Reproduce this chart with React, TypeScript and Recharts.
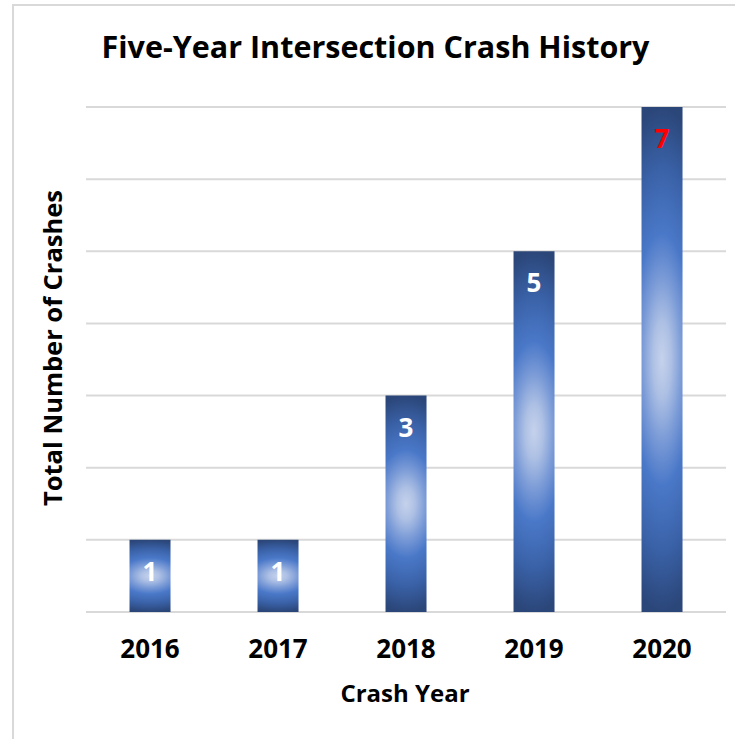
import { BarChart, Bar, XAxis, YAxis, CartesianGrid, LabelList } from 'recharts';

const years = ['2016', '2017', '2018', '2019', '2020'];
const crashes = [1, 1, 3, 5, 7];
const yTicks = [0, 1, 2, 3, 4, 5, 6, 7];

const data = years.map((year, i) => ({ year, crashes: crashes[i] }));

const FONT = "'Open Sans', 'Noto Sans', sans-serif";

const BarValue = (props: any) => {
  const { x, y, width, value } = props;
  return (
    <text
      x={x + width / 2}
      y={y + 41}
      textAnchor="middle"
      fill={value === 7 ? '#ff0000' : '#ffffff'}
      fontSize={26}
      fontWeight={700}
      fontFamily={FONT}
    >
      {value}
    </text>
  );
};

// y ticks are only needed for the gridlines, so draw nothing for them
const NoTick = () => <g />;

export default function App() {
  return (
    <div
      style={{
        position: 'absolute',
        left: 0,
        top: 0,
        width: 735,
        height: 739,
        overflow: 'hidden',
        background: '#fff',
        fontFamily: FONT,
      }}
    >
      <div
        style={{
          position: 'absolute',
          left: 12,
          top: 4,
          width: 800,
          height: 800,
          border: '2px solid #d9d9d9',
        }}
      />
      <div
        style={{
          position: 'absolute',
          left: 0,
          top: 25,
          width: 751,
          textAlign: 'center',
          fontSize: 30.5,
          fontWeight: 700,
          color: '#000',
          lineHeight: '42px',
        }}
      >
        Five-Year Intersection Crash History
      </div>
      <div
        style={{
          position: 'absolute',
          left: 52,
          top: 348,
          transform: 'translate(-50%, -50%) rotate(-90deg)',
          whiteSpace: 'nowrap',
          fontSize: 25.5,
          fontWeight: 700,
          color: '#000',
          lineHeight: '30px',
        }}
      >
        Total Number of Crashes
      </div>
      <div
        style={{
          position: 'absolute',
          left: 0,
          top: 678,
          width: 810,
          textAlign: 'center',
          fontSize: 24,
          fontWeight: 700,
          color: '#000',
          lineHeight: '30px',
        }}
      >
        Crash Year
      </div>
      <div style={{ position: 'absolute', left: 0, top: 0 }}>
        <BarChart
          width={735}
          height={739}
          data={data}
          margin={{ top: 107, right: 9, left: 86, bottom: 0 }}
          barCategoryGap="34%"
        >
          <defs>
            <radialGradient
              id="barGlow"
              cx="0.5"
              cy="0.5"
              r="0.5"
              gradientTransform="translate(0.5 0.5) scale(3 1) translate(-0.5 -0.5)"
            >
              <stop offset="0" stopColor="#c6d2ec" />
              <stop offset="0.15" stopColor="#adc0e4" />
              <stop offset="0.32" stopColor="#7b9bd7" />
              <stop offset="0.5" stopColor="#4a78c8" />
              <stop offset="0.75" stopColor="#3a62a8" />
              <stop offset="1" stopColor="#2b4679" />
            </radialGradient>
          </defs>
          <CartesianGrid vertical={false} stroke="#d9d9d9" strokeWidth={2} />
          <XAxis
            dataKey="year"
            axisLine={false}
            tickLine={false}
            tickSize={0}
            tickMargin={28}
            height={127}
            tick={{ fill: '#000', fontSize: 26, fontWeight: 700, fontFamily: FONT }}
          />
          <YAxis
            domain={[0, 7]}
            ticks={yTicks}
            interval={0}
            width={0}
            tick={NoTick}
            axisLine={false}
            tickLine={false}
          />
          <Bar dataKey="crashes" fill="url(#barGlow)" isAnimationActive={false}>
            <LabelList dataKey="crashes" content={BarValue} />
          </Bar>
        </BarChart>
      </div>
    </div>
  );
}
